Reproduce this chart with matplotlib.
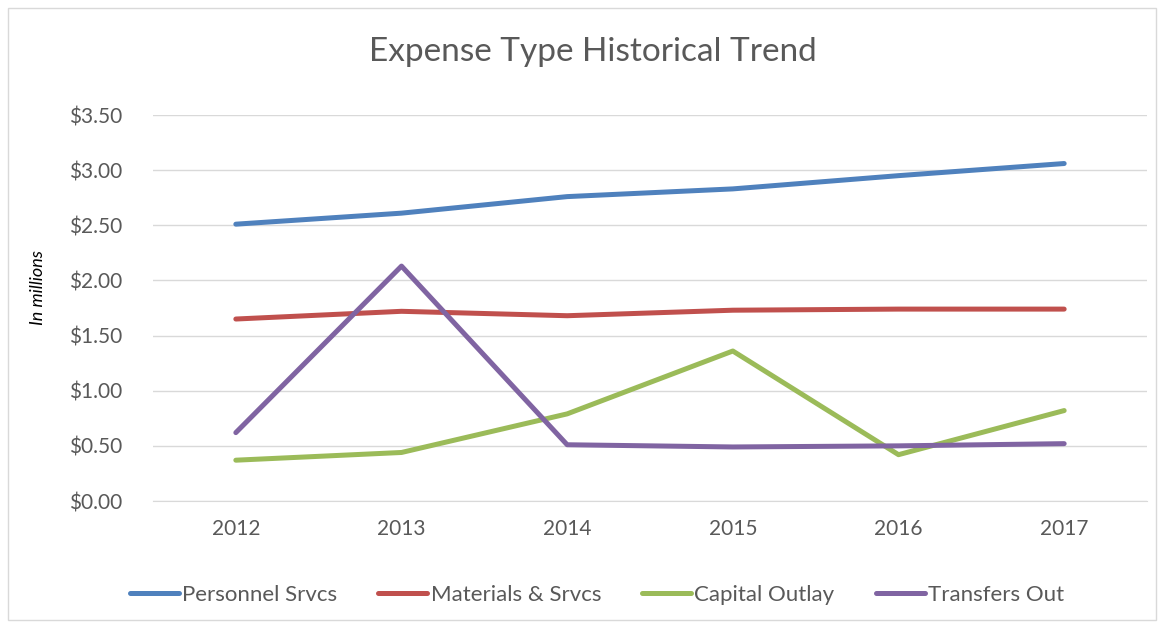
import matplotlib
matplotlib.use("Agg")
import matplotlib.pyplot as plt
from matplotlib.patches import Rectangle

years = ["2012", "2013", "2014", "2015", "2016", "2017"]
personnel = [2.51, 2.61, 2.76, 2.83, 2.95, 3.06]
materials = [1.65, 1.72, 1.68, 1.73, 1.74, 1.74]
capital = [0.37, 0.44, 0.79, 1.36, 0.42, 0.82]
transfers = [0.62, 2.13, 0.51, 0.49, 0.50, 0.52]
series_names = ["Personnel Srvcs", "Materials & Srvcs", "Capital Outlay", "Transfers Out"]
yticks = [0.0, 0.5, 1.0, 1.5, 2.0, 2.5, 3.0, 3.5]

colors = ["#4F81BD", "#C0504D", "#9BBB59", "#8064A2"]

plt.rcParams['font.family'] = ['Lato', 'DejaVu Sans']
W, H = 1167, 628
fig = plt.figure(figsize=(W / 100, H / 100), dpi=100)
fig.patches.append(Rectangle((8 / W, 8 / H), (1156 - 8) / W, (620 - 8) / H,
                             transform=fig.transFigure, fill=False,
                             edgecolor="#D9D9D9", linewidth=1.0))

ax = fig.add_axes([153 / W, 1 - 501 / H, (1147 - 153) / W, (501 - 115) / H])
x = list(range(len(years)))
for vals, name, c in zip([personnel, materials, capital, transfers], series_names, colors):
    ax.plot(x, vals, color=c, linewidth=3.6, solid_capstyle="round", label=name)

ax.set_xlim(-0.5, len(years) - 0.5)
ax.set_ylim(0, 3.5)
ax.set_yticks(yticks)
ax.set_yticklabels([f"${v:.2f}" for v in yticks], fontsize=15, color="#595959")
ax.set_xticks(x)
ax.set_xticklabels(years, fontsize=15, color="#595959")
ax.yaxis.grid(True, color="#D9D9D9", linewidth=1.0)
ax.set_axisbelow(True)
for s in ["top", "right", "left"]:
    ax.spines[s].set_visible(False)
ax.spines["bottom"].set_color("#D9D9D9")
ax.tick_params(axis="both", length=0, pad=13)
ax.tick_params(axis="y", pad=22)

fig.text(38 / W, 1 - 287 / H, "In millions", rotation=90, ha="center", va="center",
         fontsize=13, style="italic", color="black")
fig.text(593 / W, 1 - 52 / H, "Expense Type Historical Trend", ha="center", va="center",
         fontsize=24, color="#595959")

leg = fig.legend(loc="center", bbox_to_anchor=(597 / W, 1 - 595 / H), ncol=4,
                 frameon=False, fontsize=16, handlelength=2.2, handletextpad=0.15,
                 columnspacing=1.85)
for t in leg.get_texts():
    t.set_color("#595959")

fig.savefig("out.png", dpi=100)
